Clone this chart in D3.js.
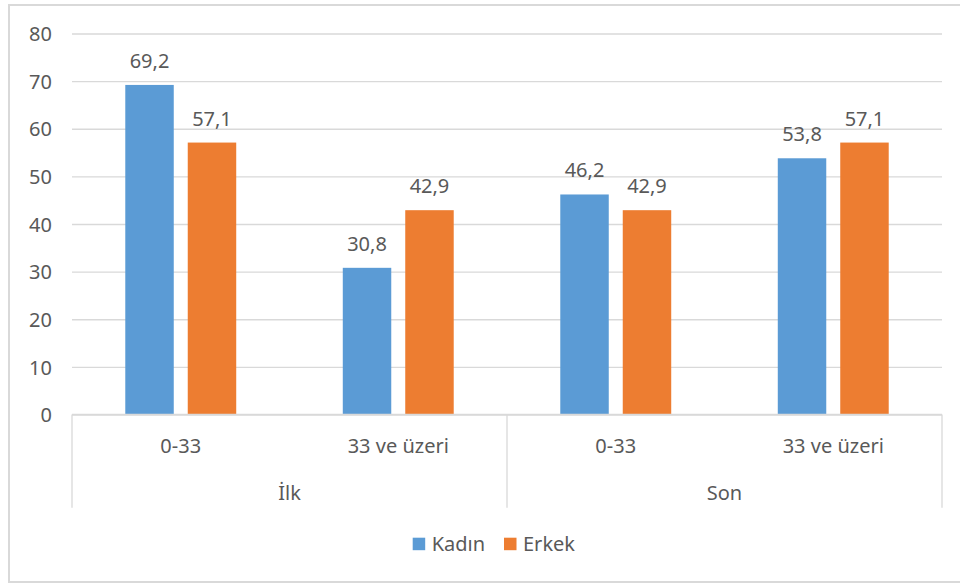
<!DOCTYPE html>
<html><head><meta charset="utf-8">
<script src="https://cdn.jsdelivr.net/npm/d3@7"></script>
<style>body{margin:0;background:#fff}svg{display:block}text{font-family:"Noto Sans",sans-serif;fill:#595959}</style>
</head><body><svg id="c" width="960" height="585"></svg>
<script>
const groups = ["İlk", "Son"];
const subCategories = ["0-33", "33 ve üzeri"];
const series = ["Kadın", "Erkek"];
const kadin = [69.2, 30.8, 46.2, 53.8];
const erkek = [57.1, 42.9, 42.9, 57.1];
const labels = ["69,2","30,8","46,2","53,8"];
const labelsE = ["57,1","42,9","42,9","57,1"];
const yTicks = [0,10,20,30,40,50,60,70,80];
const colors = ["#5b9bd5", "#ed7d31"];

const svg = d3.select("#c");
const fs = 20;
// chart frame
svg.append("rect").attr("x",9).attr("y",5).attr("width",975).attr("height",577)
  .attr("fill","#fff").attr("stroke","#d9d9d9").attr("stroke-width",2);

const L = 72, R = 942, T = 33.5, B = 414.5;
const y = d3.scaleLinear().domain([0,80]).range([B,T]);
const cats = [];
groups.forEach(g => subCategories.forEach(s => cats.push(g + "|" + s)));
const x0 = d3.scaleBand().domain(cats).range([L,R]).paddingInner(0).paddingOuter(0);
const x1 = d3.scaleBand().domain(series).range([0,x0.bandwidth()]).paddingInner(0.224).paddingOuter(0.853);

// gridlines
const yAxis = d3.axisLeft(y).tickValues(yTicks).tickSize(-(R-L)).tickFormat(d3.format("d")).tickPadding(20);
const ga = svg.append("g").attr("transform",`translate(${L},0)`).call(yAxis);
ga.select(".domain").remove();
ga.selectAll(".tick line").attr("stroke","#d9d9d9").attr("stroke-width",1.3);
ga.selectAll(".tick text").attr("font-size",fs).attr("fill","#595959").attr("dy","0.36em").attr("font-family","Noto Sans");

// bars
const data = cats.map((c,i)=>({c, vals:[{s:series[0],v:kadin[i],t:labels[i]},{s:series[1],v:erkek[i],t:labelsE[i]}]}));
const gg = svg.append("g");
const cg = gg.selectAll("g").data(data).join("g").attr("transform",d=>`translate(${x0(d.c)},0)`);
cg.selectAll("rect").data(d=>d.vals).join("rect")
  .attr("x",d=>x1(d.s)).attr("width",x1.bandwidth())
  .attr("y",d=>y(d.v)).attr("height",d=>B-y(d.v))
  .attr("fill",(d,i)=>colors[i]);
cg.selectAll("text").data(d=>d.vals).join("text")
  .attr("x",d=>x1(d.s)+x1.bandwidth()/2).attr("y",d=>y(d.v)-17)
  .attr("text-anchor","middle").attr("font-size",fs).text(d=>d.t);

// category axis
const axisG = svg.append("g");
axisG.append("line").attr("x1",L).attr("x2",R).attr("y1",B).attr("y2",B).attr("stroke","#d9d9d9").attr("stroke-width",1.3);
const sepX = [L, x0(cats[2]), R];
sepX.forEach(sx => axisG.append("line").attr("x1",sx).attr("x2",sx).attr("y1",B).attr("y2",507.7).attr("stroke","#d9d9d9").attr("stroke-width",1.3));
cats.forEach(c => {
  axisG.append("text").attr("x",x0(c)+x0.bandwidth()/2).attr("y",452.5).attr("text-anchor","middle").attr("font-size",fs).text(c.split("|")[1]);
});
groups.forEach((g,i) => {
  const a = x0(cats[i*2]), b = x0(cats[i*2+1]) + x0.bandwidth();
  axisG.append("text").attr("x",(a+b)/2).attr("y",500).attr("text-anchor","middle").attr("font-size",fs).text(g);
});

// legend
const lg = svg.append("g");
const legX = [412.7, 504];
series.forEach((s,i)=>{
  lg.append("rect").attr("x",legX[i]).attr("y",537.7).attr("width",12.5).attr("height",12.5).attr("fill",colors[i]);
  lg.append("text").attr("x",legX[i]+19).attr("y",551).attr("font-size",fs).text(s);
});
</script></body></html>
